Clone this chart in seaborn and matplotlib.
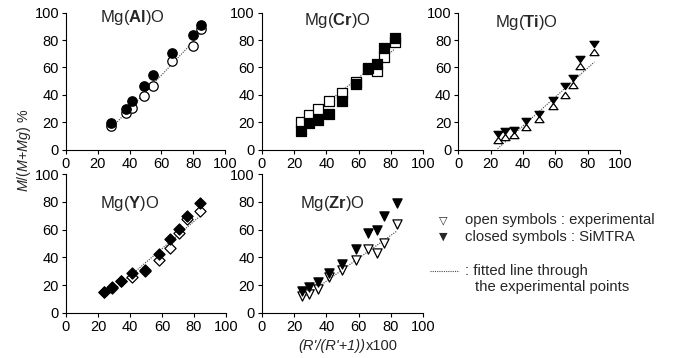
import matplotlib
matplotlib.use("Agg")
import matplotlib.pyplot as plt
from matplotlib.path import Path
import seaborn as sns
import numpy as np

# ---------------- data ----------------
al_x = [28, 37.5, 41.5, 49, 54.5, 66.5, 80, 85]
al_exp = [17.3, 27, 30.2, 39, 46.5, 64.7, 75.7, 87.8]
al_sim = [19.2, 30, 35.5, 46.7, 54.3, 70.8, 83.7, 91]

cr_x = [24.3, 29.3, 34.6, 41.9, 49.9, 58.4, 65.6, 71.1, 75.7, 82.5]
cr_exp = [20.4, 25.3, 29.4, 35.5, 41.6, 49.4, 59, 57.4, 67.9, 78.3]
cr_sim = [13.6, 19.2, 21.7, 25.8, 35.5, 47.7, 59.9, 62.5, 74.5, 81.8]

ti_x = [24.3, 29, 34.6, 41.8, 50.2, 58.8, 66, 71.2, 75.5, 84.2]
ti_exp = [6.9, 9.4, 10.5, 16.6, 22.2, 32.0, 40, 47.2, 60.8, 71]
ti_sim = [11.1, 13.6, 14.7, 20.8, 26.4, 36.2, 46.2, 52.3, 66.3, 77.1]

y_x = [23.9, 28.9, 34.2, 41.2, 49.5, 58.4, 65.2, 70.7, 75.5, 83.7]
y_exp = [14.7, 17.6, 22.9, 26, 30.4, 38.1, 47, 57.3, 67.5, 73.5]
y_sim = [14.7, 18.3, 22.9, 28.4, 31.1, 42.4, 53.3, 60.2, 70.1, 79]

zr_x = [24.7, 29.3, 34.6, 41.9, 49.9, 58.4, 66, 71.1, 75.7, 83.9]
zr_exp = [12, 13.5, 16.9, 25.5, 30.8, 38.1, 45.8, 42.9, 50.6, 64.1]
zr_sim = [15.9, 18.8, 21.9, 28.9, 34.9, 46, 57.8, 59.8, 70.1, 79]

ticks = [0, 20, 40, 60, 80, 100]
titles = [r"Mg($\mathbf{Al}$)O", r"Mg($\mathbf{Cr}$)O", r"Mg($\mathbf{Ti}$)O",
          r"Mg($\mathbf{Y}$)O", r"Mg($\mathbf{Zr}$)O"]

# ---------------- style ----------------
sns.set_style("ticks")
plt.rcParams["font.family"] = ["Liberation Sans", "DejaVu Sans"]
plt.rcParams["mathtext.fontset"] = "custom"
plt.rcParams["mathtext.rm"] = "Liberation Sans"
plt.rcParams["mathtext.it"] = "Liberation Sans:italic"
plt.rcParams["mathtext.bf"] = "Liberation Sans:bold"

fig = plt.figure(figsize=(6.77, 3.58), dpi=100)

W, H = 677.0, 358.0
def rect(x0, x1, ytop, ybot):
    return [x0 / W, 1 - ybot / H, (x1 - x0) / W, (ybot - ytop) / H]

rects = [rect(66, 225, 12.7, 149.7), rect(261.7, 423.3, 12.7, 149.7),
         rect(458.3, 620, 12.7, 149.7),
         rect(66, 226, 174.3, 312.7), rect(261.7, 423.3, 174.3, 312.7)]
title_pos = [(0.215, 0.965), (0.26, 0.944), (0.228, 0.93), (0.21, 0.79), (0.24, 0.79)]

tri_down = Path([(-1, 0.7), (1, 0.7), (0, -0.7), (-1, 0.7)],
                [Path.MOVETO, Path.LINETO, Path.LINETO, Path.CLOSEPOLY])
tri_up = Path([(-1, -0.7), (1, -0.7), (0, 0.7), (-1, -0.7)],
              [Path.MOVETO, Path.LINETO, Path.LINETO, Path.CLOSEPOLY])

panels = [
    (al_x, al_exp, al_sim, "o", "o", 46),
    (cr_x, cr_exp, cr_sim, "s", "s", 42),
    (ti_x, ti_exp, ti_sim, tri_up, tri_down, 42),
    (y_x, y_exp, y_sim, "D", "D", 32),
    (zr_x, zr_exp, zr_sim, "v", "v", 44),
]

line_kws = dict(ls=(0, (1, 1.2)), lw=0.8, color="0.25")

for i, (xs, ex, sm, m_open, m_closed, size) in enumerate(panels):
    ax = fig.add_axes(rects[i])
    sns.regplot(x=np.array(xs), y=np.array(ex), ax=ax, scatter=False, ci=None,
                line_kws=line_kws, truncate=True)
    sns.scatterplot(x=xs, y=ex, ax=ax, marker=m_open, s=size, color="white",
                    edgecolor="black", linewidth=0.9, zorder=3)
    sns.scatterplot(x=xs, y=sm, ax=ax, marker=m_closed, s=size, color="black",
                    edgecolor="black", linewidth=0.9, zorder=4)
    ax.set_xlim(0, 100)
    ax.set_ylim(0, 100)
    ax.set_xticks(ticks)
    ax.set_yticks(ticks)
    ax.set_xlabel("")
    ax.set_ylabel("")
    ax.tick_params(direction="out", length=3, width=0.8, labelsize=10.5, pad=2,
                   colors="black")
    for s in ["top", "right"]:
        ax.spines[s].set_visible(False)
    for s in ["left", "bottom"]:
        ax.spines[s].set_linewidth(0.8)
        ax.spines[s].set_color("black")
    ax.text(title_pos[i][0], title_pos[i][1], titles[i], transform=ax.transAxes,
            ha="left", va="center", fontsize=12)

# axis labels
fig.text(24 / W, 1 - 150 / H, r"$\mathit{M/(M{+}Mg)}$ %", rotation=90,
         ha="center", va="center", fontsize=10.3)
fig.text(365.5 / W, 1 - 346 / H, "(R'/(R'+1))", style="italic",
         ha="right", va="center", fontsize=10.5)
fig.text(365.5 / W, 1 - 346 / H, "x100", ha="left", va="center", fontsize=10.5)

# legend (text)
fig.text(443 / W, 1 - 220.5 / H, "\u25BD", ha="center", va="center", fontsize=8,
         family=["DejaVu Sans"])
fig.text(443 / W, 1 - 237 / H, "\u25BC", ha="center", va="center", fontsize=8,
         family=["DejaVu Sans"])
fig.text(465 / W, 1 - 220 / H, "open symbols : experimental", ha="left",
         va="center", fontsize=10.7)
fig.text(465 / W, 1 - 237 / H, "closed symbols : SiMTRA", ha="left",
         va="center", fontsize=10.7)
fig.add_artist(plt.Line2D([430 / W, 459 / W], [1 - 271 / H, 1 - 271 / H],
                          transform=fig.transFigure, ls=(0, (1, 1)), lw=0.8,
                          color="0.3"))
fig.text(465 / W, 1 - 271 / H, ": fitted line through", ha="left",
         va="center", fontsize=10.7)
fig.text(475 / W, 1 - 287.5 / H, "the experimental points", ha="left",
         va="center", fontsize=10.7)

fig.savefig("out.png", dpi=100)
